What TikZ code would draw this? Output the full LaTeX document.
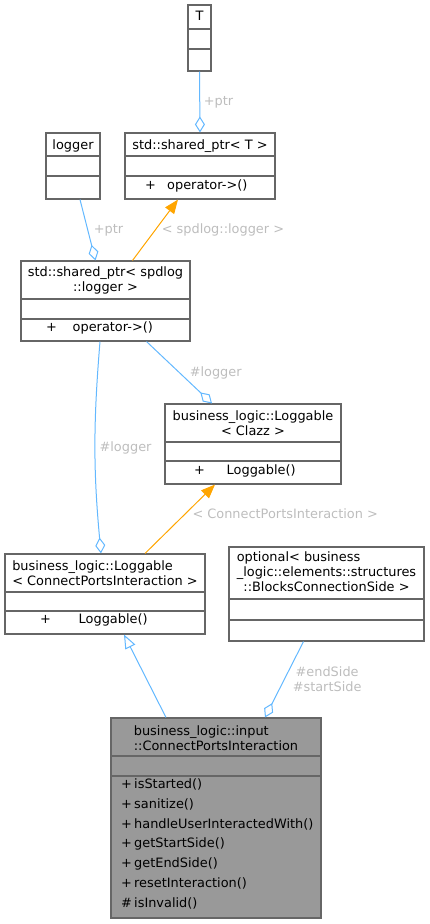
\documentclass[tikz,border=0pt]{standalone}
\usepackage{fontspec}
\setmainfont{DejaVu Sans}
\usetikzlibrary{arrows.meta, calc}

\definecolor{boxgray}{HTML}{666666}
\definecolor{maingray}{HTML}{999999}
\definecolor{edgeblue}{HTML}{63B8FF}
\definecolor{tmplorange}{HTML}{FFA500}
\definecolor{lblgray}{HTML}{BDBDBD}

\begin{document}
\begin{tikzpicture}[x=1pt, y=-1pt,
    every node/.style={font=\fontsize{12.9}{15}\selectfont, inner sep=0pt},
    cls/.style={draw=boxgray, line width=1.1pt, fill=white},
    sep/.style={draw=boxgray, line width=1.1pt},
    txt/.style={text height=9.5pt, text depth=3pt},
    lbl/.style={text=lblgray},
    aggr/.style={draw=edgeblue, line width=1pt, -{Diamond[length=16pt,width=10pt,fill=white]}},
    inst/.style={draw=tmplorange, line width=1pt, -{Triangle[length=14pt,width=11pt]}},
    inher/.style={draw=edgeblue, line width=1pt, -{Triangle[length=14pt,width=11pt,fill=white]}}]

    \useasboundingbox (0,0) rectangle (429,924);

    % class boxes
    \node[cls, minimum width=23, minimum height=66] (T) at (199.5,38) {};
    \node[cls, minimum width=150, minimum height=66] (sptrT) at (200,166) {};
    \node[cls, minimum width=54, minimum height=66] (logger) at (73,166) {};
    \node[cls, minimum width=169, minimum height=80] (sptrLog) at (105.5,301) {};
    \node[cls, minimum width=176, minimum height=80] (logClazz) at (253,444) {};
    \node[cls, minimum width=200, minimum height=80] (logCPI) at (105,594) {};
    \node[cls, minimum width=195, minimum height=94] (opt) at (326.5,594) {};
    \node[cls, fill=maingray, minimum width=210, minimum height=200] (main) at (216,818) {};

    % compartments
    \draw[sep] (188,29) -- (211,29) (188,49) -- (211,49);
    \draw[sep] (125,156) -- (275,156) (125,176) -- (275,176);
    \draw[sep] (46,156) -- (100,156) (46,176) -- (100,176);
    \draw[sep] (21,299) -- (190,299) (21,319) -- (190,319);
    \draw[sep] (165,442) -- (341,442) (165,461) -- (341,461);
    \draw[sep] (5,592) -- (205,592) (5,611) -- (205,611);
    \draw[sep] (229,599) -- (424,599) (229,620) -- (424,620);
    \draw[sep] (111,756) -- (321,756) (111,776) -- (321,776);

    % names and members
    \node[txt] (Tname) at (199.5,17) {T};
    \node[txt] (sptrTname) at (200,146) {std::shared\_ptr< T >};
    \node[txt, anchor=west] (sptrTvis) at (145,186) {+};
    \node[txt, anchor=west] (sptrTop) at (167,186) {operator->()};
    \node[txt] (loggername) at (73,146) {logger};
    \node[align=center] (sptrLogname) at (105.5,280.5) {std::shared\_ptr< spdlog\\::logger >};
    \node[txt, anchor=west] (sptrLogvis) at (46,328) {+};
    \node[txt, anchor=west] (sptrLogop) at (72.5,328) {operator->()};
    \node[align=center] (logClazzname) at (253,423) {business\_logic::Loggable\\< Clazz >};
    \node[txt, anchor=west] (logClazzvis) at (194,471) {+};
    \node[txt, anchor=west] (logClazzctor) at (226.5,471) {Loggable()};
    \node[align=left] (logCPIname) at (105,573) {business\_logic::Loggable\\< ConnectPortsInteraction >};
    \node[txt, anchor=west] (logCPIvis) at (40,620) {+};
    \node[txt, anchor=west] (logCPIctor) at (78.5,620) {Loggable()};
    \node (optname) at (326.5,573) {\begin{tabular}{@{}l@{}}optional< business\\\_logic::elements::structures\\\multicolumn{1}{@{}c@{}}{::BlocksConnectionSide >}\end{tabular}};
    \node[align=left] (mainname) at (216,738) {business\_logic::input\\::ConnectPortsInteraction};
    \foreach \vis/\fn [count=\i] in {+/isStarted(), +/sanitize(), +/handleUserInteractedWith(),
        +/getStartSide(), +/getEndSide(), +/resetInteraction(), \#/isInvalid()} {
      \node[txt, anchor=west] (mvis\i) at (121,785+19.9*\i-19.9) {\vis};
      \node[txt, anchor=west] (mfn\i) at (134,785+19.9*\i-19.9) {\fn};
    }

    % connectors
    \draw[aggr] (T.south) -- node[lbl, right=3.5pt] (ptrT) {+ptr} (sptrT.north);
    \draw[aggr] ([xshift=7pt]logger.south) -- node[lbl, right=5.5pt] (ptrLog) {+ptr} ([xshift=-10pt]sptrLog.north);
    \draw[inst] ([xshift=27pt]sptrLog.north) -- node[lbl, right=6pt] (argLog) {< spdlog::logger >} ([xshift=-22pt]sptrT.south);
    \draw[aggr] ([xshift=41pt]sptrLog.south) -- node[lbl, right=10pt] (loggerA) {\#logger} ([xshift=-41pt]logClazz.north);
    \draw[aggr] ([xshift=-5.5pt]sptrLog.south) to[bend right=5] node[lbl, right=4pt] (loggerB) {\#logger} ([xshift=-4pt]logCPI.north);
    \draw[inst] ([xshift=40pt]logCPI.north) -- node[lbl, right=12pt, yshift=5pt] (argCPI) {< ConnectPortsInteraction >} ([xshift=-38pt]logClazz.south);
    \draw[inher] ([xshift=-50pt]main.north) -- ([xshift=19pt]logCPI.south);
    \draw[aggr] ([xshift=-23pt]opt.south) -- node[lbl, right=8pt, align=center] (sides) {\#endSide\\\#startSide} ([xshift=49pt]main.north);
\end{tikzpicture}
\end{document}
